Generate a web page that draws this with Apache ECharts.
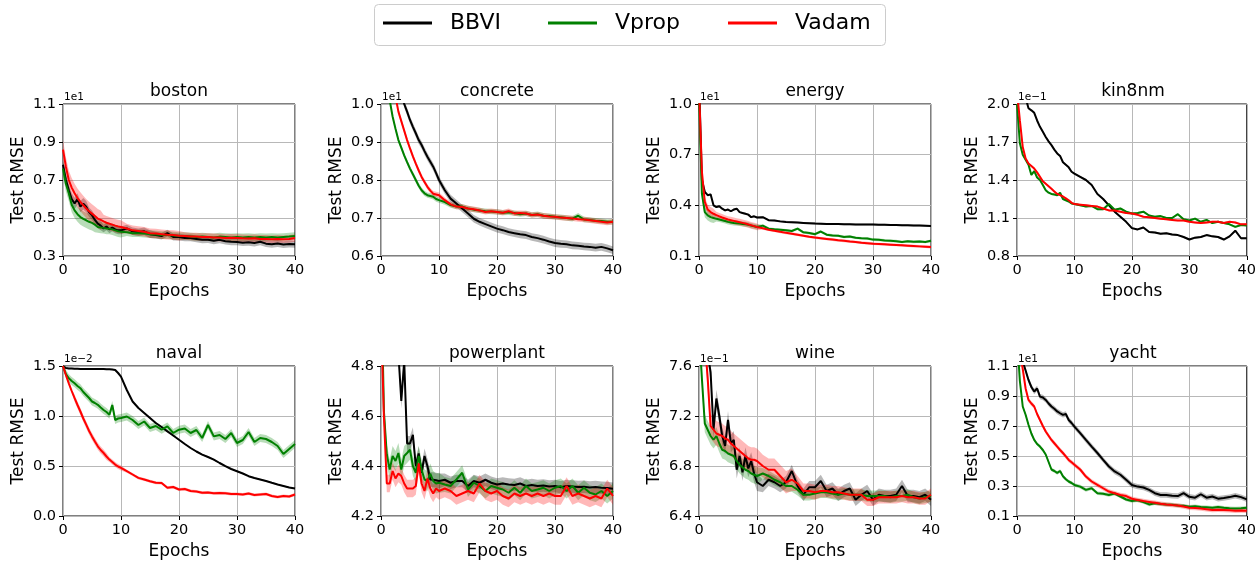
<!DOCTYPE html>
<html><head><meta charset="utf-8">
<script src="https://cdn.jsdelivr.net/npm/echarts@6/dist/echarts.min.js"></script>
<style>html,body{margin:0;padding:0;background:#fff}#c{width:1259px;height:561px}</style>
</head><body><div id="c"></div>
<script>
// ---------- data ----------
const epochs = [0,0.5,1,1.5,2,2.5,3,3.5,4,4.5,5,5.5,6,6.5,7,7.5,8,8.5,9,9.5,10,
  11,12,13,14,15,16,17,18,19,20,21,22,23,24,25,26,27,28,29,30,31,32,33,34,35,36,37,38,39,40];
const xTicks = [0,10,20,30,40];
const methods = ['BBVI','Vprop','Vadam'];
const panelNames = ['boston','concrete','energy','kin8nm','naval','powerplant','wine','yacht'];
const offsetLabels = ['1e1','1e1','1e1','1e\u22121','1e\u22122','','1e\u22121','1e1'];
const yMin = [0.3,0.6,0.1,0.8,0.0,4.2,6.4,0.1];
const yMax = [1.1,1.0,1.0,2.0,1.5,4.8,7.6,1.1];
const yStep = [0.2,0.1,0.3,0.3,0.5,0.2,0.4,0.2];

const boston_bbvi = [0.78,0.70,0.646,0.60,0.576,0.60,0.56,0.575,0.56,0.53,0.515,0.49,0.47,0.46,0.445,0.455,0.44,0.45,0.44,0.435,0.435,
  0.445,0.43,0.425,0.43,0.415,0.41,0.405,0.42,0.40,0.40,0.395,0.395,0.39,0.385,0.386,0.38,0.385,0.378,0.375,0.374,0.37,0.372,0.368,0.375,0.365,0.362,0.366,0.36,0.363,0.362];
const boston_vprop = [0.76,0.68,0.63,0.57,0.54,0.52,0.505,0.495,0.488,0.48,0.474,0.465,0.453,0.45,0.448,0.445,0.444,0.44,0.435,0.43,0.427,
  0.425,0.42,0.42,0.418,0.415,0.413,0.41,0.41,0.408,0.405,0.405,0.403,0.40,0.402,0.40,0.398,0.402,0.40,0.398,0.40,0.398,0.40,0.397,0.40,0.398,0.40,0.398,0.40,0.402,0.405];
const boston_vadam = [0.86,0.77,0.70,0.66,0.63,0.605,0.585,0.567,0.55,0.536,0.523,0.51,0.497,0.49,0.482,0.475,0.47,0.465,0.46,0.456,0.453,
  0.445,0.435,0.432,0.428,0.42,0.418,0.415,0.412,0.41,0.407,0.405,0.403,0.402,0.40,0.40,0.398,0.397,0.395,0.396,0.395,0.393,0.392,0.393,0.39,0.39,0.388,0.39,0.388,0.39,0.395];
const boston_bbvi_sd = [0.03,0.03,0.03,0.03,0.03,0.03,0.03,0.03,0.03,0.025,0.025,0.025,0.025,0.025,0.02,0.02,0.02,0.02,0.02,0.02,0.02,
  0.02,0.02,0.02,0.02,0.02,0.018,0.018,0.018,0.018,0.018,0.018,0.018,0.018,0.018,0.018,0.018,0.018,0.018,0.018,0.018,0.018,0.018,0.018,0.018,0.018,0.018,0.018,0.018,0.018,0.018];
const boston_vprop_sd = [0.04,0.04,0.04,0.04,0.04,0.04,0.04,0.04,0.04,0.04,0.04,0.04,0.03,0.03,0.03,0.03,0.03,0.03,0.03,0.03,0.03,
  0.02,0.02,0.02,0.02,0.02,0.02,0.02,0.02,0.02,0.02,0.02,0.02,0.02,0.02,0.02,0.02,0.02,0.02,0.02,0.02,0.02,0.02,0.02,0.02,0.02,0.02,0.02,0.02,0.02,0.02];
const boston_vadam_sd = [0.05,0.05,0.05,0.05,0.05,0.05,0.05,0.05,0.05,0.05,0.05,0.05,0.05,0.05,0.035,0.035,0.035,0.035,0.035,0.035,0.035,
  0.025,0.025,0.025,0.025,0.025,0.025,0.025,0.025,0.025,0.025,0.02,0.02,0.02,0.02,0.02,0.02,0.02,0.02,0.02,0.02,0.02,0.02,0.02,0.02,0.02,0.02,0.02,0.02,0.02,0.02];

const concrete_bbvi = [1.40,1.34,1.28,1.22,1.17,1.12,1.08,1.04,1.00,0.98,0.958,0.94,0.923,0.905,0.892,0.876,0.861,0.848,0.835,0.818,0.80,
  0.773,0.751,0.738,0.725,0.712,0.698,0.69,0.684,0.678,0.672,0.668,0.663,0.66,0.657,0.655,0.65,0.647,0.643,0.638,0.634,0.632,0.631,0.628,0.627,0.625,0.624,0.622,0.624,0.62,0.615];
const concrete_vprop = [1.30,1.20,1.10,1.01,0.967,0.935,0.905,0.885,0.865,0.847,0.83,0.815,0.80,0.785,0.773,0.765,0.76,0.758,0.756,0.75,0.747,
  0.742,0.734,0.73,0.73,0.725,0.722,0.72,0.718,0.717,0.716,0.714,0.715,0.713,0.71,0.712,0.708,0.71,0.706,0.705,0.703,0.702,0.70,0.698,0.706,0.696,0.695,0.693,0.692,0.69,0.69];
const concrete_vadam = [1.35,1.27,1.20,1.13,1.07,1.02,0.98,0.955,0.93,0.905,0.883,0.862,0.843,0.825,0.808,0.795,0.782,0.772,0.764,0.762,0.76,
  0.747,0.736,0.73,0.729,0.725,0.723,0.72,0.716,0.718,0.716,0.714,0.718,0.712,0.713,0.712,0.708,0.709,0.706,0.704,0.703,0.701,0.70,0.699,0.697,0.696,0.694,0.692,0.69,0.688,0.69];
const concrete_bbvi_sd = [0.01,0.01,0.01,0.01,0.01,0.01,0.01,0.01,0.01,0.01,0.01,0.01,0.01,0.01,0.01,0.01,0.01,0.01,0.01,0.01,0.01,
  0.01,0.01,0.01,0.01,0.01,0.01,0.01,0.01,0.01,0.01,0.01,0.01,0.01,0.01,0.01,0.01,0.01,0.01,0.01,0.01,0.01,0.01,0.01,0.01,0.01,0.01,0.01,0.01,0.01,0.01];
const concrete_vprop_sd = [0.007,0.007,0.007,0.007,0.007,0.007,0.007,0.007,0.007,0.007,0.007,0.007,0.007,0.007,0.007,0.007,0.007,0.007,0.007,0.007,0.007,
  0.007,0.007,0.007,0.007,0.007,0.007,0.007,0.007,0.007,0.007,0.007,0.007,0.007,0.007,0.007,0.007,0.007,0.007,0.007,0.007,0.007,0.007,0.007,0.007,0.007,0.007,0.007,0.007,0.007,0.007];
const concrete_vadam_sd = [0.007,0.007,0.007,0.007,0.007,0.007,0.007,0.007,0.007,0.007,0.007,0.007,0.007,0.007,0.007,0.007,0.007,0.007,0.007,0.007,0.007,
  0.007,0.007,0.007,0.007,0.007,0.007,0.007,0.007,0.007,0.007,0.007,0.007,0.007,0.007,0.007,0.007,0.007,0.007,0.007,0.007,0.007,0.007,0.007,0.007,0.007,0.007,0.007,0.007,0.007,0.007];

const energy_bbvi = [1.15,0.55,0.48,0.46,0.465,0.40,0.39,0.395,0.38,0.37,0.375,0.365,0.375,0.38,0.36,0.355,0.35,0.345,0.33,0.335,0.328,
  0.33,0.312,0.31,0.305,0.302,0.30,0.298,0.296,0.294,0.292,0.291,0.29,0.289,0.289,0.288,0.288,0.287,0.287,0.286,0.286,0.285,0.285,0.284,0.284,0.282,0.282,0.281,0.28,0.279,0.278];
const energy_vprop = [1.05,0.47,0.36,0.34,0.33,0.325,0.32,0.316,0.312,0.307,0.302,0.299,0.296,0.294,0.292,0.29,0.288,0.285,0.28,0.276,0.272,
  0.28,0.262,0.258,0.255,0.252,0.248,0.262,0.24,0.236,0.229,0.245,0.226,0.222,0.22,0.213,0.215,0.208,0.205,0.204,0.197,0.196,0.192,0.19,0.188,0.183,0.187,0.184,0.186,0.183,0.19];
const energy_vadam = [1.10,0.60,0.42,0.375,0.36,0.35,0.342,0.335,0.328,0.322,0.316,0.312,0.308,0.304,0.30,0.296,0.292,0.287,0.282,0.277,0.272,
  0.264,0.256,0.25,0.243,0.237,0.232,0.226,0.22,0.214,0.209,0.205,0.201,0.197,0.193,0.19,0.186,0.183,0.179,0.176,0.173,0.171,0.169,0.167,0.165,0.163,0.161,0.159,0.157,0.155,0.153];
const energy_bbvi_sd = [0.006,0.006,0.006,0.006,0.006,0.006,0.006,0.006,0.006,0.006,0.006,0.006,0.006,0.006,0.006,0.006,0.006,0.006,0.006,0.006,0.006,
  0.006,0.006,0.006,0.006,0.006,0.006,0.006,0.006,0.006,0.006,0.006,0.006,0.006,0.006,0.006,0.006,0.006,0.006,0.006,0.006,0.006,0.006,0.006,0.006,0.006,0.006,0.006,0.006,0.006,0.006];
const energy_vprop_sd = [0.03,0.03,0.03,0.03,0.03,0.03,0.015,0.015,0.015,0.015,0.015,0.015,0.015,0.015,0.015,0.015,0.015,0.015,0.015,0.015,0.015,
  0.008,0.008,0.008,0.008,0.008,0.008,0.008,0.008,0.008,0.008,0.008,0.008,0.008,0.008,0.008,0.008,0.008,0.008,0.008,0.008,0.008,0.008,0.008,0.008,0.008,0.008,0.008,0.008,0.008,0.008];
const energy_vadam_sd = [0.03,0.03,0.03,0.03,0.03,0.03,0.02,0.02,0.02,0.02,0.02,0.02,0.02,0.02,0.02,0.02,0.02,0.02,0.02,0.02,0.02,
  0.008,0.008,0.008,0.008,0.008,0.008,0.008,0.008,0.008,0.008,0.008,0.008,0.008,0.008,0.008,0.008,0.008,0.008,0.008,0.008,0.008,0.008,0.008,0.008,0.008,0.008,0.008,0.008,0.008,0.008];

const kin8nm_bbvi = [2.35,2.25,2.15,2.05,1.966,1.95,1.93,1.87,1.82,1.78,1.74,1.705,1.675,1.64,1.61,1.59,1.54,1.52,1.50,1.465,1.45,
  1.425,1.40,1.36,1.29,1.25,1.20,1.15,1.11,1.07,1.02,1.01,1.025,0.99,0.985,0.975,0.98,0.97,0.965,0.95,0.93,0.945,0.95,0.965,0.955,0.95,0.93,0.955,1.00,0.94,0.94];
const kin8nm_vprop = [2.0,1.69,1.60,1.56,1.52,1.44,1.47,1.42,1.40,1.36,1.32,1.30,1.29,1.285,1.28,1.30,1.25,1.24,1.23,1.215,1.21,
  1.20,1.19,1.195,1.17,1.17,1.21,1.165,1.175,1.15,1.135,1.14,1.15,1.12,1.11,1.115,1.10,1.10,1.13,1.09,1.08,1.095,1.07,1.085,1.06,1.07,1.06,1.05,1.03,1.045,1.04];
const kin8nm_vadam = [2.10,1.87,1.66,1.57,1.53,1.51,1.49,1.46,1.425,1.39,1.37,1.35,1.33,1.31,1.29,1.28,1.27,1.255,1.24,1.22,1.21,
  1.205,1.20,1.195,1.19,1.175,1.16,1.16,1.15,1.14,1.135,1.125,1.11,1.105,1.10,1.095,1.09,1.085,1.08,1.08,1.07,1.065,1.06,1.065,1.07,1.07,1.06,1.07,1.065,1.05,1.05];
const kin8nm_bbvi_sd = [0.008,0.008,0.008,0.008,0.008,0.008,0.008,0.008,0.008,0.008,0.008,0.008,0.008,0.008,0.008,0.008,0.008,0.008,0.008,0.008,0.008,
  0.008,0.008,0.008,0.008,0.008,0.008,0.008,0.008,0.008,0.008,0.008,0.008,0.008,0.008,0.008,0.008,0.008,0.008,0.008,0.008,0.008,0.008,0.008,0.008,0.008,0.008,0.008,0.008,0.008,0.008];
const kin8nm_vprop_sd = [0.008,0.008,0.008,0.008,0.008,0.008,0.008,0.008,0.008,0.008,0.008,0.008,0.008,0.008,0.008,0.008,0.008,0.008,0.008,0.008,0.008,
  0.008,0.008,0.008,0.008,0.008,0.008,0.008,0.008,0.008,0.008,0.008,0.008,0.008,0.008,0.008,0.008,0.008,0.008,0.008,0.008,0.008,0.008,0.008,0.008,0.008,0.008,0.008,0.008,0.008,0.008];
const kin8nm_vadam_sd = [0.008,0.008,0.008,0.008,0.008,0.008,0.008,0.008,0.008,0.008,0.008,0.008,0.008,0.008,0.008,0.008,0.008,0.008,0.008,0.008,0.008,
  0.008,0.008,0.008,0.008,0.008,0.008,0.008,0.008,0.008,0.008,0.008,0.008,0.008,0.008,0.008,0.008,0.008,0.008,0.008,0.008,0.008,0.008,0.008,0.008,0.008,0.008,0.008,0.008,0.008,0.008];

const naval_bbvi = [1.50,1.48,1.475,1.475,1.472,1.472,1.47,1.47,1.47,1.47,1.47,1.47,1.47,1.47,1.47,1.468,1.468,1.465,1.46,1.43,1.394,
  1.26,1.145,1.08,1.03,0.98,0.93,0.89,0.846,0.805,0.763,0.72,0.68,0.645,0.614,0.59,0.564,0.53,0.498,0.47,0.448,0.425,0.398,0.38,0.365,0.35,0.332,0.315,0.30,0.285,0.275];
const naval_vprop = [1.50,1.42,1.377,1.35,1.327,1.30,1.278,1.24,1.21,1.18,1.145,1.13,1.112,1.085,1.06,1.04,1.012,1.11,0.96,0.975,0.98,
  0.995,0.96,0.91,0.945,0.88,0.90,0.863,0.896,0.83,0.863,0.875,0.83,0.86,0.78,0.91,0.796,0.81,0.77,0.83,0.73,0.76,0.84,0.74,0.78,0.77,0.74,0.70,0.62,0.67,0.72];
const naval_vadam = [1.50,1.41,1.327,1.25,1.178,1.11,1.045,0.975,0.913,0.85,0.796,0.745,0.697,0.66,0.63,0.595,0.564,0.54,0.514,0.495,0.481,
  0.448,0.415,0.381,0.365,0.348,0.332,0.33,0.282,0.29,0.265,0.27,0.25,0.245,0.232,0.235,0.228,0.23,0.227,0.22,0.22,0.215,0.225,0.21,0.215,0.22,0.2,0.19,0.2,0.195,0.215];
const naval_bbvi_sd = [0.008,0.008,0.008,0.008,0.008,0.008,0.008,0.008,0.008,0.008,0.008,0.008,0.008,0.008,0.008,0.008,0.008,0.008,0.008,0.008,0.008,
  0.008,0.008,0.008,0.008,0.008,0.008,0.008,0.008,0.008,0.008,0.008,0.008,0.008,0.008,0.008,0.008,0.008,0.008,0.008,0.008,0.008,0.008,0.008,0.008,0.008,0.008,0.008,0.008,0.008,0.008];
const naval_vprop_sd = [0.04,0.04,0.04,0.04,0.04,0.04,0.04,0.04,0.04,0.04,0.04,0.04,0.04,0.04,0.04,0.04,0.04,0.04,0.04,0.04,0.04,
  0.04,0.04,0.04,0.04,0.04,0.04,0.04,0.04,0.04,0.04,0.04,0.04,0.04,0.04,0.04,0.04,0.04,0.04,0.04,0.04,0.04,0.04,0.04,0.04,0.04,0.04,0.04,0.04,0.04,0.04];
const naval_vadam_sd = [0.02,0.02,0.02,0.02,0.035,0.035,0.035,0.035,0.035,0.035,0.035,0.035,0.035,0.035,0.035,0.035,0.025,0.025,0.025,0.025,0.025,
  0.015,0.015,0.015,0.015,0.015,0.015,0.015,0.015,0.015,0.015,0.015,0.015,0.015,0.015,0.015,0.015,0.015,0.015,0.015,0.015,0.015,0.015,0.015,0.015,0.015,0.015,0.015,0.015,0.015,0.015];

const powerplant_bbvi = [5.5,5.4,5.3,5.2,5.1,5.0,4.85,4.66,4.82,4.49,4.49,4.525,4.40,4.45,4.373,4.44,4.40,4.346,4.345,4.343,4.34,
  4.345,4.333,4.34,4.34,4.32,4.34,4.333,4.345,4.333,4.326,4.33,4.326,4.324,4.33,4.32,4.324,4.32,4.322,4.318,4.32,4.315,4.32,4.318,4.316,4.317,4.314,4.316,4.313,4.312,4.309];
const powerplant_vprop = [5.2,4.62,4.446,4.386,4.44,4.42,4.452,4.386,4.44,4.452,4.465,4.40,4.373,4.44,4.386,4.346,4.34,4.37,4.34,4.33,4.333,
  4.326,4.32,4.346,4.373,4.306,4.333,4.32,4.30,4.32,4.313,4.306,4.293,4.313,4.293,4.32,4.30,4.306,4.313,4.30,4.313,4.32,4.30,4.32,4.293,4.313,4.293,4.286,4.30,4.28,4.30];
const powerplant_vadam = [5.0,4.6,4.33,4.33,4.38,4.35,4.37,4.36,4.33,4.31,4.31,4.31,4.32,4.41,4.33,4.30,4.35,4.31,4.29,4.31,4.30,
  4.31,4.30,4.28,4.29,4.30,4.29,4.33,4.30,4.29,4.30,4.28,4.27,4.29,4.28,4.29,4.28,4.29,4.28,4.29,4.28,4.28,4.32,4.28,4.29,4.28,4.27,4.28,4.27,4.31,4.28];
const powerplant_bbvi_sd = [0.03,0.03,0.03,0.03,0.03,0.03,0.03,0.03,0.03,0.03,0.03,0.03,0.03,0.03,0.03,0.03,0.03,0.03,0.03,0.03,0.03,
  0.025,0.025,0.025,0.025,0.025,0.025,0.025,0.025,0.025,0.025,0.025,0.025,0.025,0.025,0.025,0.025,0.025,0.025,0.025,0.025,0.025,0.025,0.025,0.025,0.025,0.025,0.025,0.025,0.025,0.025];
const powerplant_vprop_sd = [0.04,0.04,0.04,0.04,0.04,0.04,0.04,0.04,0.04,0.04,0.04,0.04,0.04,0.04,0.04,0.04,0.04,0.04,0.04,0.04,0.04,
  0.03,0.03,0.03,0.03,0.03,0.03,0.03,0.03,0.03,0.03,0.03,0.03,0.03,0.03,0.03,0.03,0.03,0.03,0.03,0.03,0.03,0.03,0.03,0.03,0.03,0.03,0.03,0.03,0.03,0.03];
const powerplant_vadam_sd = [0.035,0.035,0.035,0.035,0.035,0.035,0.035,0.035,0.035,0.035,0.035,0.035,0.035,0.035,0.035,0.035,0.035,0.035,0.035,0.035,0.035,
  0.035,0.035,0.035,0.035,0.035,0.035,0.035,0.035,0.035,0.035,0.035,0.035,0.035,0.035,0.035,0.035,0.035,0.035,0.035,0.035,0.035,0.035,0.035,0.035,0.035,0.035,0.035,0.035,0.035,0.035];

const wine_bbvi = [8.3,8.1,7.9,7.7,7.55,7.09,7.34,7.2,7.04,6.96,7.17,6.98,7.01,6.77,6.88,6.75,6.88,6.78,6.84,6.74,6.67,
  6.64,6.69,6.67,6.64,6.67,6.76,6.64,6.57,6.63,6.63,6.68,6.6,6.62,6.57,6.6,6.62,6.53,6.57,6.6,6.53,6.57,6.56,6.56,6.57,6.64,6.56,6.56,6.55,6.57,6.53];
const wine_vprop = [7.9,7.5,7.14,7.09,7.04,7.01,7.04,6.98,6.93,6.92,6.9,6.89,6.88,6.84,6.81,6.79,6.77,6.76,6.74,6.73,6.72,
  6.74,6.72,6.69,6.67,6.64,6.64,6.61,6.57,6.57,6.58,6.59,6.59,6.58,6.57,6.58,6.57,6.57,6.57,6.56,6.56,6.56,6.56,6.55,6.56,6.56,6.57,6.55,6.54,6.55,6.56];
const wine_vadam = [8.4,8.1,7.8,7.5,7.12,7.09,7.06,7.05,7.04,7.02,7.01,6.98,6.96,6.94,6.92,6.9,6.88,6.86,6.85,6.85,6.84,
  6.80,6.77,6.77,6.72,6.67,6.69,6.66,6.6,6.6,6.59,6.6,6.6,6.59,6.59,6.58,6.57,6.57,6.57,6.53,6.53,6.55,6.55,6.55,6.55,6.56,6.55,6.55,6.54,6.54,6.57];
const wine_bbvi_sd = [0.07,0.07,0.07,0.07,0.07,0.07,0.07,0.07,0.07,0.07,0.07,0.07,0.07,0.07,0.07,0.07,0.07,0.07,0.07,0.07,0.07,
  0.05,0.05,0.05,0.05,0.05,0.05,0.05,0.05,0.05,0.05,0.05,0.05,0.05,0.05,0.05,0.05,0.05,0.05,0.05,0.05,0.05,0.05,0.05,0.05,0.05,0.05,0.05,0.05,0.05,0.05];
const wine_vprop_sd = [0.07,0.07,0.07,0.07,0.07,0.07,0.07,0.07,0.07,0.07,0.07,0.07,0.07,0.07,0.07,0.07,0.07,0.07,0.07,0.07,0.07,
  0.045,0.045,0.045,0.045,0.045,0.045,0.045,0.045,0.045,0.045,0.045,0.045,0.045,0.045,0.045,0.045,0.045,0.045,0.045,0.045,0.045,0.045,0.045,0.045,0.045,0.045,0.045,0.045,0.045,0.045];
const wine_vadam_sd = [0.1,0.1,0.1,0.1,0.1,0.1,0.1,0.1,0.1,0.1,0.1,0.1,0.1,0.1,0.1,0.1,0.1,0.1,0.1,0.1,0.1,
  0.09,0.09,0.09,0.09,0.09,0.09,0.06,0.06,0.06,0.06,0.05,0.05,0.05,0.05,0.05,0.05,0.05,0.05,0.05,0.05,0.05,0.05,0.05,0.05,0.05,0.05,0.05,0.05,0.05,0.05];

const yacht_bbvi = [1.4,1.25,1.13,1.07,1.007,0.96,0.93,0.95,0.896,0.89,0.874,0.85,0.83,0.815,0.797,0.785,0.774,0.78,0.74,0.72,0.696,
  0.653,0.607,0.563,0.52,0.474,0.43,0.397,0.375,0.342,0.307,0.296,0.29,0.274,0.252,0.24,0.24,0.235,0.233,0.252,0.228,0.222,0.245,0.222,0.23,0.2155,0.22,0.226,0.235,0.226,0.211];
const yacht_vprop = [1.3,1.0,0.83,0.775,0.708,0.65,0.607,0.58,0.563,0.54,0.51,0.46,0.41,0.40,0.387,0.40,0.365,0.345,0.33,0.32,0.307,
  0.296,0.274,0.285,0.252,0.248,0.24,0.25,0.23,0.21,0.20,0.205,0.193,0.177,0.185,0.18,0.177,0.175,0.17,0.168,0.162,0.165,0.16,0.158,0.155,0.16,0.155,0.152,0.15,0.152,0.155];
const yacht_vadam = [1.35,1.2,1.08,0.95,0.874,0.85,0.83,0.78,0.74,0.70,0.663,0.635,0.607,0.585,0.563,0.54,0.52,0.497,0.474,0.458,0.442,
  0.41,0.363,0.33,0.307,0.285,0.263,0.252,0.24,0.233,0.215,0.207,0.20,0.194,0.188,0.182,0.177,0.173,0.17,0.163,0.155,0.153,0.15,0.145,0.14,0.142,0.14,0.138,0.135,0.137,0.135];
const yacht_bbvi_sd = [0.018,0.018,0.018,0.018,0.018,0.018,0.018,0.018,0.018,0.018,0.018,0.018,0.018,0.018,0.018,0.018,0.018,0.018,0.018,0.018,0.018,
  0.018,0.018,0.018,0.018,0.018,0.018,0.018,0.018,0.018,0.018,0.018,0.018,0.018,0.018,0.018,0.018,0.018,0.018,0.018,0.018,0.018,0.018,0.018,0.018,0.018,0.018,0.018,0.018,0.018,0.018];
const yacht_vprop_sd = [0.012,0.012,0.012,0.012,0.012,0.012,0.012,0.012,0.012,0.012,0.012,0.012,0.012,0.012,0.012,0.012,0.012,0.012,0.012,0.012,0.012,
  0.012,0.012,0.012,0.012,0.012,0.012,0.012,0.012,0.012,0.012,0.012,0.012,0.012,0.012,0.012,0.012,0.012,0.012,0.012,0.012,0.012,0.012,0.012,0.012,0.012,0.012,0.012,0.012,0.012,0.012];
const yacht_vadam_sd = [0.015,0.015,0.015,0.015,0.015,0.015,0.015,0.015,0.015,0.015,0.015,0.015,0.015,0.015,0.015,0.015,0.015,0.015,0.015,0.015,0.015,
  0.015,0.015,0.015,0.015,0.015,0.015,0.015,0.015,0.015,0.015,0.015,0.015,0.015,0.015,0.015,0.015,0.015,0.015,0.015,0.015,0.015,0.015,0.015,0.015,0.015,0.015,0.015,0.015,0.015,0.015];

const means = [
  [boston_bbvi, boston_vprop, boston_vadam],
  [concrete_bbvi, concrete_vprop, concrete_vadam],
  [energy_bbvi, energy_vprop, energy_vadam],
  [kin8nm_bbvi, kin8nm_vprop, kin8nm_vadam],
  [naval_bbvi, naval_vprop, naval_vadam],
  [powerplant_bbvi, powerplant_vprop, powerplant_vadam],
  [wine_bbvi, wine_vprop, wine_vadam],
  [yacht_bbvi, yacht_vprop, yacht_vadam]
];
const sds = [
  [boston_bbvi_sd, boston_vprop_sd, boston_vadam_sd],
  [concrete_bbvi_sd, concrete_vprop_sd, concrete_vadam_sd],
  [energy_bbvi_sd, energy_vprop_sd, energy_vadam_sd],
  [kin8nm_bbvi_sd, kin8nm_vprop_sd, kin8nm_vadam_sd],
  [naval_bbvi_sd, naval_vprop_sd, naval_vadam_sd],
  [powerplant_bbvi_sd, powerplant_vprop_sd, powerplant_vadam_sd],
  [wine_bbvi_sd, wine_vprop_sd, wine_vadam_sd],
  [yacht_bbvi_sd, yacht_vprop_sd, yacht_vadam_sd]
];

// ---------- layout / style ----------
const FONT = '"DejaVu Sans", "Liberation Sans", sans-serif';
const lineColors = ['#000000', '#008000', '#ff0000'];
const bandColors = ['rgba(0,0,0,0.28)', 'rgba(0,128,0,0.28)', 'rgba(255,0,0,0.28)'];
const colLeft = [63, 381, 699, 1017];
const rowTop = [104, 366];
const plotW = 232;
const plotH = [152, 151];
const legendLeft = [383, 548, 728];

const grids = [], xAxes = [], yAxes = [], series = [], graphics = [];
panelNames.forEach((name, p) => {
  const col = p % 4, row = Math.floor(p / 4);
  const left = colLeft[col], top = rowTop[row], h = plotH[row];
  grids.push({left: left, top: top, width: plotW, height: h, show: true,
    borderColor: '#000', borderWidth: 1, backgroundColor: 'transparent', containLabel: false});
  xAxes.push({gridIndex: p, type: 'value', min: xTicks[0], max: xTicks[xTicks.length - 1],
    interval: xTicks[1] - xTicks[0],
    name: 'Epochs', nameLocation: 'middle', nameGap: 27,
    nameTextStyle: {fontSize: 17, color: '#000', fontFamily: FONT},
    axisLine: {show: false},
    axisTick: {show: true, inside: false, length: 4, lineStyle: {color: '#000', width: 1}},
    axisLabel: {margin: 7, fontSize: 14.5, color: '#000', fontFamily: FONT},
    splitLine: {show: true, lineStyle: {color: '#b8b8b8', width: 1}}});
  yAxes.push({gridIndex: p, type: 'value', min: yMin[p], max: yMax[p], interval: yStep[p],
    name: 'Test RMSE', nameLocation: 'middle', nameGap: 36,
    nameTextStyle: {fontSize: 17, color: '#000', fontFamily: FONT},
    axisLine: {show: false},
    axisTick: {show: true, inside: false, length: 4, lineStyle: {color: '#000', width: 1}},
    axisLabel: {margin: 7, fontSize: 14.5, color: '#000', fontFamily: FONT,
      formatter: v => v.toFixed(1)},
    splitLine: {show: true, lineStyle: {color: '#b8b8b8', width: 1}}});
  methods.forEach((m, k) => {
    const mean = means[p][k], sd = sds[p][k];
    const n = Math.min(epochs.length, mean.length, sd.length);
    const xs = epochs.slice(0, n);
    series.push({type: 'line', name: m, xAxisIndex: p, yAxisIndex: p,
      data: xs.map((x, i) => [x, mean[i]]), symbol: 'none', clip: true,
      lineStyle: {color: lineColors[k], width: 2}, itemStyle: {color: lineColors[k]},
      emphasis: {disabled: true}, z: 3});
    series.push({type: 'custom', name: m + ' band', xAxisIndex: p, yAxisIndex: p,
      coordinateSystem: 'cartesian2d', clip: true, silent: true, z: 3,
      data: [[xs[0], mean[0]]],
      renderItem: (params, api) => {
        const pts = [];
        for (let i = 0; i < n; i++) pts.push(api.coord([xs[i], mean[i] + sd[i]]));
        for (let i = n - 1; i >= 0; i--) pts.push(api.coord([xs[i], mean[i] - sd[i]]));
        const cs = params.coordSys;
        return {type: 'group',
          clipPath: {type: 'rect', shape: {x: cs.x, y: cs.y, width: cs.width, height: cs.height}},
          children: [{type: 'polygon', shape: {points: pts}, style: {fill: bandColors[k], stroke: null}}]};
      }});
  });
  graphics.push({type: 'text', x: left + plotW / 2, y: top - 12,
    style: {text: name, font: '17px ' + FONT, fill: '#000', textAlign: 'center', textVerticalAlign: 'middle',
      align: 'center', verticalAlign: 'middle'}});
  if (offsetLabels[p]) {
    graphics.push({type: 'text', x: left + 1, y: top - 1,
      style: {text: offsetLabels[p], font: '10.5px ' + FONT, fill: '#000', textAlign: 'left',
        textVerticalAlign: 'bottom', align: 'left', verticalAlign: 'bottom'}});
  }
});
// legend frame
graphics.push({type: 'rect', z: -1, shape: {x: 374.5, y: 4.5, width: 511, height: 41, r: 4},
  style: {fill: '#fff', stroke: '#cccccc', lineWidth: 1}});

const legends = methods.map((m, k) => ({data: [m], left: legendLeft[k], top: 12, orient: 'horizontal',
  icon: 'rect', itemWidth: 49, itemHeight: 3, padding: 0,
  textStyle: {fontSize: 22, color: '#000', fontFamily: FONT, padding: [0, 0, 0, 13]},
  selectedMode: false}));

const chart = echarts.init(document.getElementById('c'), null, {renderer: 'canvas'});
chart.setOption({
  animation: false,
  backgroundColor: '#fff',
  textStyle: {fontFamily: FONT},
  legend: legends,
  grid: grids, xAxis: xAxes, yAxis: yAxes, series: series, graphic: graphics
});
</script></body></html>
